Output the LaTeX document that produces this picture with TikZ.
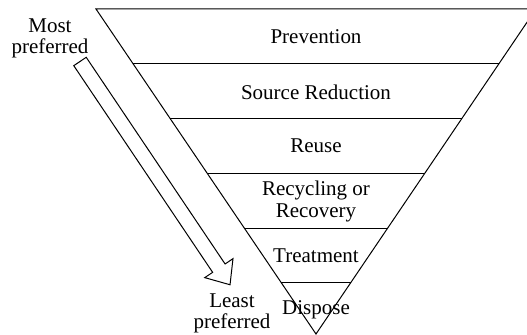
\documentclass[tikz,border=0pt]{standalone}
\usepackage{fontspec}
\setmainfont{Liberation Serif}
\usetikzlibrary{calc}

\begin{document}
\begin{tikzpicture}[
				x=0.5pt, y=-0.5pt,
				level/.style={font=\fontsize{10.5}{11}\selectfont, align=center},
				side/.style={font=\fontsize{10.5}{10.5}\selectfont, align=center},
				rim/.style={line width=0.5pt}
			]
				\useasboundingbox (0,0) rectangle (527,335);
				\coordinate (tl) at (96,9);
				\coordinate (tr) at (536,9);
				\coordinate (apex) at (316,334);
				\draw[rim] (tl) -- (tr) -- (apex) -- cycle;
				\foreach \k in {1,...,5}
					\draw[rim] ($(tl)!\k*0.1686!(apex)$) -- ($(tr)!\k*0.1686!(apex)$);

				\node[level] (prevention) at (316,37) {Prevention};
				\node[level] (source) at (316,92) {Source Reduction};
				\node[level] (reuse) at (316,146) {Reuse};
				\node[level] (recycling) at (316,201) {Recycling or\\Recovery};
				\node[level] (treatment) at (316,256) {Treatment};
				\node[level] (dispose) at (316,310) {Dispose};

				\node[side] (most) at (50,38) {Most\\preferred};
				\node[side] (least) at (232,313) {Least\\preferred};

				\begin{scope}[shift={(80,61.5)}, rotate=-56.1]
					\draw[rim] (0,7.5) -- (249,7.5) -- (249,17) -- (269,0) -- (249,-17) -- (249,-7.5) -- (0,-7.5) -- cycle;
				\end{scope}
			\end{tikzpicture}
\end{document}
